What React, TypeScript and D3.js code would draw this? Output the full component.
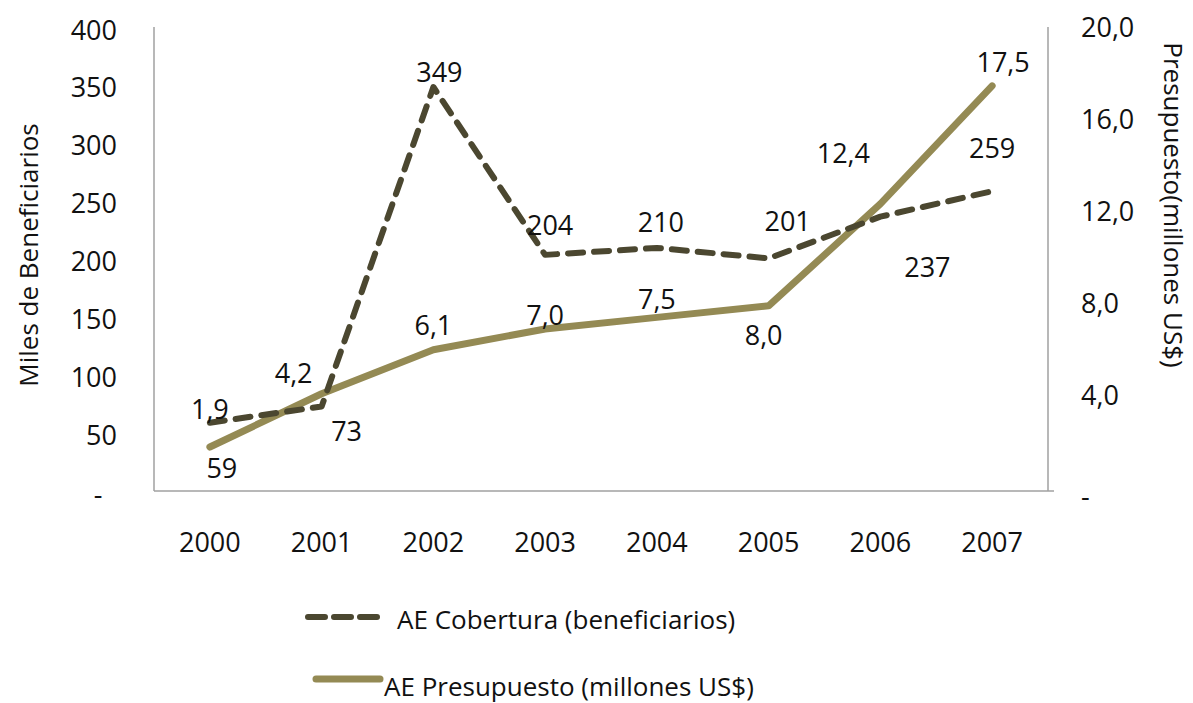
import React from "react";
import * as d3 from "d3";

const years = ["2000", "2001", "2002", "2003", "2004", "2005", "2006", "2007"];
const cobertura = [59, 73, 349, 204, 210, 201, 237, 259];
const presupuesto = [1.9, 4.2, 6.1, 7.0, 7.5, 8.0, 12.4, 17.5];
const leftTicks = [0, 50, 100, 150, 200, 250, 300, 350, 400];
const rightTicks = [0, 4, 8, 12, 16, 20];

// label offsets (px) relative to each point
const cobOffsets: [number, number][] = [[12, 45], [25, 24], [6, -16], [5, -30], [4, -26], [19, -38], [47, 50], [0, -44]];
const preOffsets: [number, number][] = [[0, -39], [-28, -21], [0, -25], [0, -14], [0, -19], [-5, 29], [-37, -51], [11, -24]];

const W = 1193, H = 703;
const M = { left: 154, right: 1048, top: 28, bottom: 491 };
const FONT = "'Open Sans', sans-serif";
const FS = 26;
const FN = 27;
const DARK = "#4b4730";
const OLIVE = "#948a54";
const TEXT = "#111";

const fmt = (v: number) => v.toFixed(1).replace(".", ",");

export default function App() {
  const x = d3.scaleBand<string>().domain(years).range([M.left, M.right]);
  const cx = (d: string) => (x(d) ?? 0) + x.bandwidth() / 2;
  const yL = d3.scaleLinear().domain([0, 400]).range([M.bottom, M.top]);
  const yR = d3.scaleLinear().domain([0, 20]).range([M.bottom, M.top]);

  const lineL = d3.line<number>().x((_, i) => cx(years[i])).y((d) => yL(d));
  const lineR = d3.line<number>().x((_, i) => cx(years[i])).y((d) => yR(d));

  return (
    <svg width={W} height={H} style={{ position: "absolute", left: 0, top: 0, background: "#fff" }} fontFamily={FONT}>
      {/* axes */}
      <line x1={M.left} x2={M.left} y1={M.top - 1} y2={M.bottom} stroke="#a0a0a0" strokeWidth={1.5} />
      <line x1={M.right} x2={M.right} y1={M.top - 1} y2={M.bottom} stroke="#a0a0a0" strokeWidth={1.5} />
      <line x1={M.left} x2={M.right + 6} y1={M.bottom} y2={M.bottom} stroke="#a0a0a0" strokeWidth={1.5} />

      {leftTicks.map((t) => (
        <text key={"l" + t} x={t === 0 ? 98 : 117} y={yL(t) + (t === 0 ? 2 : 1)} textAnchor={t === 0 ? "middle" : "end"}
          dominantBaseline="central" fontSize={FN} fill={TEXT}>
          {t === 0 ? "-" : t}
        </text>
      ))}
      {rightTicks.map((t) => (
        <text key={"r" + t} x={1081} y={yR(t) + (t === 0 ? 4 : -2 - (20 - t) * 0.15)} textAnchor="start"
          dominantBaseline="central" fontSize={FN} fill={TEXT}>
          {t === 0 ? "-" : fmt(t)}
        </text>
      ))}
      {years.map((yr) => (
        <text key={yr} x={cx(yr)} y={541} textAnchor="middle" dominantBaseline="central" fontSize={FN} fill={TEXT}>
          {yr}
        </text>
      ))}

      <text transform={`translate(28,255) rotate(-90)`} textAnchor="middle" dominantBaseline="central" fontSize={FS} fill={TEXT}>
        Miles de Beneficiarios
      </text>
      <text transform={`translate(1174,205) rotate(90)`} textAnchor="middle" dominantBaseline="central" fontSize={FS} fill={TEXT}>
        Presupuesto(millones  US$)
      </text>

      {/* series */}
      <path d={lineR(presupuesto) ?? ""} fill="none" stroke={OLIVE} strokeWidth={7} strokeLinecap="round" strokeLinejoin="round" />
      <path d={lineL(cobertura) ?? ""} fill="none" stroke={DARK} strokeWidth={6} strokeDasharray="15 11" strokeLinecap="round" strokeLinejoin="round" />

      {/* labels */}
      {cobertura.map((v, i) => (
        <text key={"cl" + i} x={cx(years[i]) + cobOffsets[i][0]} y={yL(v) + cobOffsets[i][1]} textAnchor="middle"
          dominantBaseline="central" fontSize={FN} fill={TEXT}>
          {v}
        </text>
      ))}
      {presupuesto.map((v, i) => (
        <text key={"pl" + i} x={cx(years[i]) + preOffsets[i][0]} y={yR(v) + preOffsets[i][1]} textAnchor="middle"
          dominantBaseline="central" fontSize={FN} fill={TEXT}>
          {fmt(v)}
        </text>
      ))}

      {/* legend */}
      <line x1={308} x2={382} y1={617} y2={617} stroke={DARK} strokeWidth={6} strokeDasharray="17 9" strokeLinecap="round" />
      <text x={397} y={619} dominantBaseline="central" fontSize={FS} fill={TEXT}>AE Cobertura (beneficiarios)</text>
      <line x1={316} x2={380} y1={679} y2={679} stroke={OLIVE} strokeWidth={7} strokeLinecap="round" />
      <text x={384} y={686} dominantBaseline="central" fontSize={FS} fill={TEXT}>AE Presupuesto (millones US$)</text>
    </svg>
  );
}
